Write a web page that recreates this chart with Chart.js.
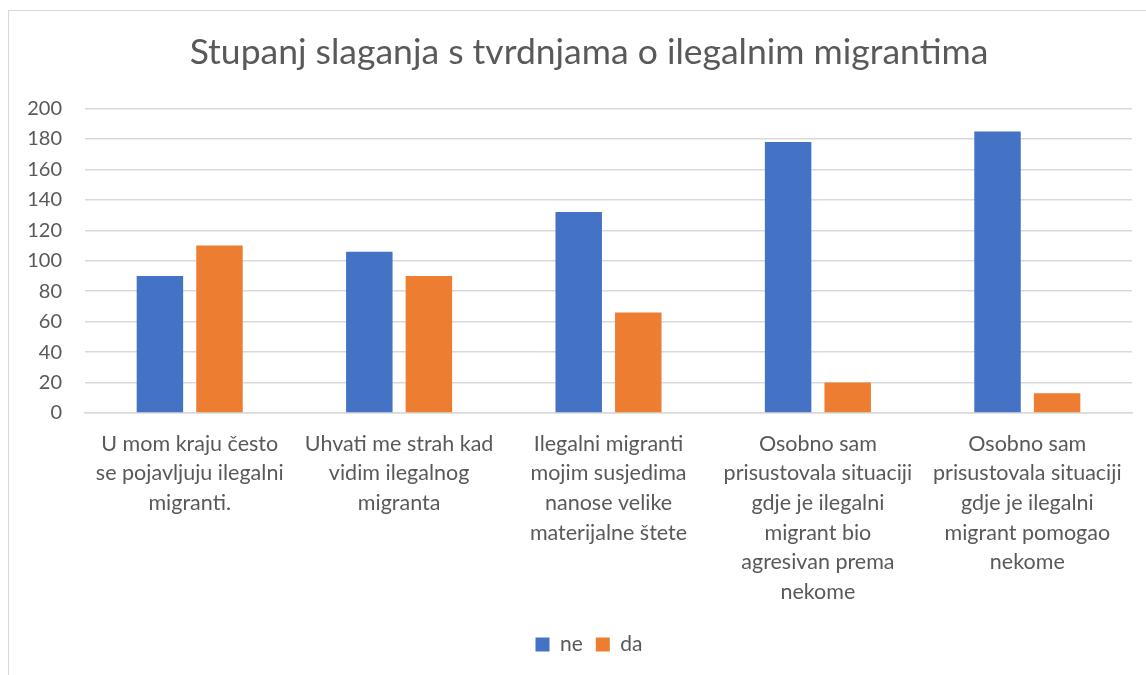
<!DOCTYPE html>
<html>
<head>
<meta charset="utf-8">
<script src="https://cdn.jsdelivr.net/npm/chart.js@4/dist/chart.umd.min.js"></script>
<style>
  html, body { margin: 0; padding: 0; background: #fff; overflow: hidden; width: 1146px; height: 675px; }
  #frame { position: absolute; left: 8px; top: 10px; width: 1200px; height: 700px; border: 1px solid #d9d9d9; }
  #wrap { position: absolute; left: 0; top: 0; width: 1178px; height: 675px; }
</style>
</head>
<body>
<div id="frame"></div>
<div id="wrap"><canvas id="c" width="1178" height="675"></canvas></div>
<script>
const titleText = 'Stupanj slaganja s tvrdnjama o ilegalnim migrantima';
const categories = [
  ['U mom kraju često', 'se pojavljuju ilegalni', 'migranti.'],
  ['Uhvati me strah kad', 'vidim ilegalnog', 'migranta'],
  ['Ilegalni migranti', 'mojim susjedima', 'nanose velike', 'materijalne štete'],
  ['Osobno sam', 'prisustovala situaciji', 'gdje je ilegalni', 'migrant bio', 'agresivan prema', 'nekome'],
  ['Osobno sam', 'prisustovala situaciji', 'gdje je ilegalni', 'migrant pomogao', 'nekome']
];
const seriesNames = ['ne', 'da'];
const neValues = [90, 106, 132, 178, 185];
const daValues = [110, 90, 66, 20, 13];
const yTicks = [0, 20, 40, 60, 80, 100, 120, 140, 160, 180, 200];

const FONT = 'Lato, "Open Sans", sans-serif';
const TXT = '#595959';

new Chart(document.getElementById('c'), {
  type: 'bar',
  data: {
    labels: categories,
    datasets: [
      { label: seriesNames[0], data: neValues, backgroundColor: '#4472C4', categoryPercentage: 0.569, barPercentage: 0.78 },
      { label: seriesNames[1], data: daValues, backgroundColor: '#ED7D31', categoryPercentage: 0.569, barPercentage: 0.78 }
    ]
  },
  options: {
    responsive: false,
    animation: false,
    layout: { padding: { left: 0, right: 0, top: 0, bottom: 10 } },
    plugins: {
      title: {
        display: true,
        text: titleText,
        color: TXT,
        font: { family: FONT, size: 35.5, weight: 'normal', lineHeight: 1.2 },
        padding: { top: 31, bottom: 35 }
      },
      legend: {
        position: 'bottom',
        labels: {
          color: TXT,
          font: { family: FONT, size: 21 },
          boxWidth: 14,
          boxHeight: 14,
          padding: 13
        }
      },
      tooltip: { enabled: false }
    },
    scales: {
      x: {
        grid: { display: false, drawTicks: false },
        border: { display: true, color: '#d9d9d9', width: 1.5 },
        ticks: {
          color: TXT,
          font: { family: FONT, size: 21.5, lineHeight: 1.377 },
          padding: 16,
          maxRotation: 0,
          autoSkip: false
        },
        afterFit: (s) => { s.height = 208; }
      },
      y: {
        min: 0,
        max: 200,
        afterBuildTicks: (s) => { s.ticks = yTicks.map(v => ({ value: v })); },
        grid: { color: '#d9d9d9', lineWidth: 1.5, drawTicks: false },
        border: { display: false },
        ticks: {
          color: TXT,
          font: { family: FONT, size: 20 },
          padding: 23
        },
        afterFit: (s) => { s.width = 85; }
      },
      yRight: {
        position: 'right',
        display: true,
        grid: { display: false, drawTicks: false },
        border: { display: false },
        ticks: { display: false },
        afterFit: (s) => { s.width = 46; }
      }
    }
  }
});
</script>
</body>
</html>
